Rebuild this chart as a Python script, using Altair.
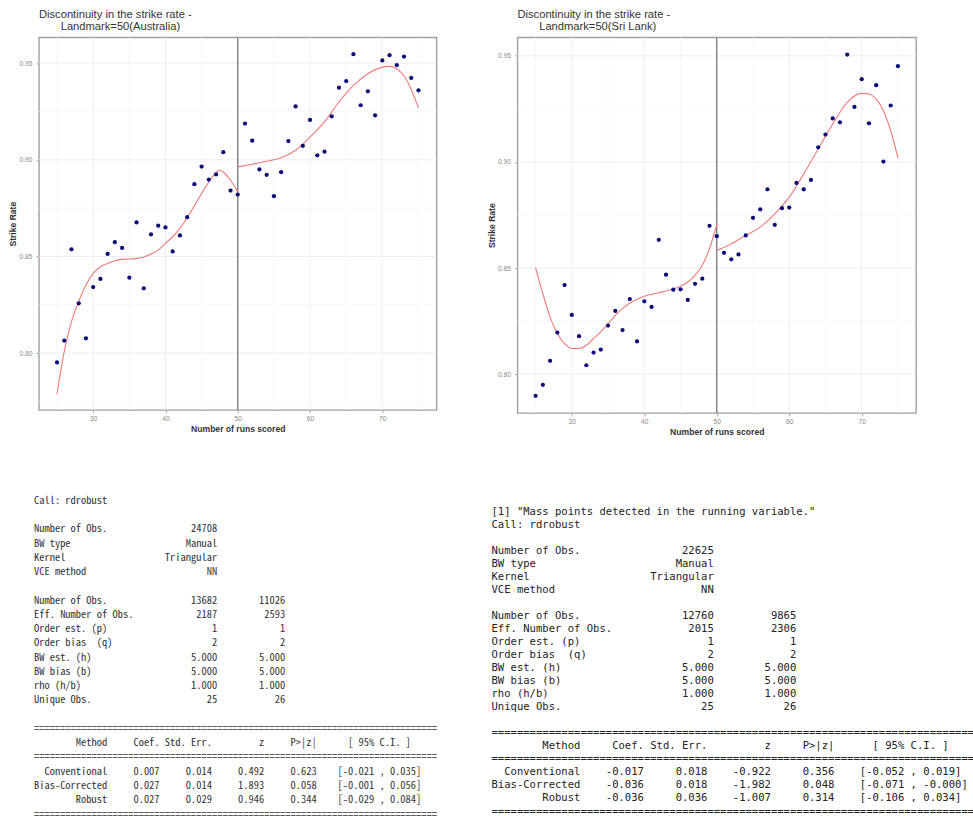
import altair as alt
import pandas as pd

NB = "\u00a0"
ZW = "\u200b"  # keeps leading non-breaking spaces from being trimmed

# ---------------- data: binned scatter (runs 25..75) ----------------
runs = list(range(25, 76))

aus_rate = [0.7952, 0.8065, 0.8537, 0.8258, 0.8077, 0.8342, 0.8384, 0.8514, 0.8574, 0.8544,
            0.8390, 0.8676, 0.8335, 0.8614, 0.8659, 0.8650, 0.8526, 0.8609, 0.8703, 0.8874,
            0.8965, 0.8898, 0.8924, 0.9039, 0.8841, 0.8820, 0.9187, 0.9099, 0.8950, 0.8922,
            0.8812, 0.8936, 0.9097, 0.9276, 0.9072, 0.9206, 0.9023, 0.9042, 0.9225, 0.9373,
            0.9407, 0.9546, 0.9282, 0.9354, 0.9230, 0.9514, 0.9541, 0.9490, 0.9534, 0.9423,
            0.9359]

sl_rate = [0.7898, 0.7950, 0.8063, 0.8196, 0.8420, 0.8279, 0.8179, 0.8042, 0.8102, 0.8116,
           0.8229, 0.8298, 0.8208, 0.8354, 0.8154, 0.8343, 0.8317, 0.8633, 0.8469, 0.8398,
           0.8400, 0.8350, 0.8426, 0.8450, 0.8699, 0.8650, 0.8572, 0.8541, 0.8564, 0.8654,
           0.8737, 0.8777, 0.8871, 0.8704, 0.8782, 0.8785, 0.8901, 0.8871, 0.8915, 0.9069,
           0.9129, 0.9205, 0.9187, 0.9506, 0.9259, 0.9390, 0.9182, 0.9362, 0.9002, 0.9266,
           0.9451]

# ---------------- data: fitted polynomial curves ----------------
aus_fit_lx = [25, 26, 27, 28, 29, 30, 31, 32, 33, 34, 35, 36, 37, 38, 39, 40, 41, 42, 43, 44,
              45, 46, 47, 47.5, 48, 49, 50]
aus_fit_ly = [0.7788, 0.8009, 0.8163, 0.8267, 0.8353, 0.8413, 0.8447, 0.8464, 0.8478, 0.8485,
              0.8487, 0.8490, 0.8497, 0.8513, 0.8533, 0.8568, 0.8602, 0.8645, 0.8700, 0.8762,
              0.8826, 0.8886, 0.8934, 0.8946, 0.8937, 0.8894, 0.8834]
aus_fit_rx = [50, 52, 54, 56, 58, 60, 62, 64, 66, 68, 70, 71, 72, 73, 74, 75]
aus_fit_ry = [0.8963, 0.8977, 0.8992, 0.9011, 0.9049, 0.9118, 0.9196, 0.9299, 0.9385, 0.9445,
              0.9479, 0.9483, 0.9471, 0.9433, 0.9364, 0.9269]

sl_fit_lx = [25, 26, 27, 28, 29, 30, 31, 32, 33, 34, 35, 36, 37, 38, 39, 40, 41, 42, 43, 44,
             45, 46, 47, 48, 49, 50]
sl_fit_ly = [0.8502, 0.8379, 0.8270, 0.8191, 0.8144, 0.8121, 0.8121, 0.8136, 0.8168, 0.8199,
             0.8238, 0.8277, 0.8309, 0.8335, 0.8353, 0.8367, 0.8376, 0.8384, 0.8392, 0.8401,
             0.8414, 0.8434, 0.8466, 0.8513, 0.8591, 0.8704]
sl_fit_rx = [50, 52, 54, 56, 58, 60, 62, 64, 66, 68, 70, 71, 72, 73, 74, 75]
sl_fit_ry = [0.8583, 0.8614, 0.8654, 0.8693, 0.8755, 0.8834, 0.8944, 0.9061, 0.9179, 0.9281,
             0.9323, 0.9320, 0.9296, 0.9241, 0.9147, 0.9019]

cutoff = [50]
x_major = [30, 40, 50, 60, 70]
x_minor = [25, 35, 45, 55, 65, 75]
y_major = [0.80, 0.85, 0.90, 0.95]
aus_y_minor = [0.775, 0.825, 0.875, 0.925]
sl_y_minor = [0.825, 0.875, 0.925]

# ---------------- data: rdrobust printouts ----------------
aus_top = [("Number of Obs.", "24708"), ("BW type", "Manual"), ("Kernel", "Triangular"), ("VCE method", "NN")]
aus_mid = [("Number of Obs.", "13682", "11026"), ("Eff. Number of Obs.", "2187", "2593"),
           ("Order est. (p)", "1", "1"), ("Order bias  (q)", "2", "2"),
           ("BW est. (h)", "5.000", "5.000"), ("BW bias (b)", "5.000", "5.000"),
           ("rho (h/b)", "1.000", "1.000"), ("Unique Obs.", "25", "26")]
aus_tab = [("Conventional", "0.007", "0.014", "0.492", "0.623", "-0.021", "0.035"),
           ("Bias-Corrected", "0.027", "0.014", "1.893", "0.058", "-0.001", "0.056"),
           ("Robust", "0.027", "0.029", "0.946", "0.344", "-0.029", "0.084")]

sl_top = [("Number of Obs.", "22625"), ("BW type", "Manual"), ("Kernel", "Triangular"), ("VCE method", "NN")]
sl_mid = [("Number of Obs.", "12760", "9865"), ("Eff. Number of Obs.", "2015", "2306"),
          ("Order est. (p)", "1", "1"), ("Order bias  (q)", "2", "2"),
          ("BW est. (h)", "5.000", "5.000"), ("BW bias (b)", "5.000", "5.000"),
          ("rho (h/b)", "1.000", "1.000"), ("Unique Obs.", "25", "26")]
sl_tab = [("Conventional", "-0.017", "0.018", "-0.922", "0.356", "-0.052", "0.019"),
          ("Bias-Corrected", "-0.036", "0.018", "-1.982", "0.048", "-0.071", "-0.000"),
          ("Robust", "-0.036", "0.036", "-1.007", "0.314", "-0.106", "0.034")]


def keep(s):
    return ZW + s.replace(" ", NB)


def printout(top, mid, tab, pre):
    sep = "=" * 77
    lines = list(pre) + ["Call: rdrobust", ""]
    lines += [f"{a:<22}{b:>13}" for a, b in top]
    lines += [""]
    lines += [f"{a:<22}{b:>13}{c:>13}" for a, b, c in mid]
    lines += ["", sep,
              f"{'Method':>14}{'Coef.':>10}{'Std. Err.':>10}{'z':>10}{'P>|z|':>10}      [ 95% C.I. ]",
              sep]
    lines += [f"{m:>14}{c:>10}{s:>10}{z:>10}{p:>10}    [{lo} , {hi}]" for m, c, s, z, p, lo, hi in tab]
    lines += [sep]
    rows = [(i, l) for i, l in enumerate(lines) if l]
    return pd.DataFrame({"line": [i for i, _ in rows],
                         "col": [0] * len(rows),
                         "txt": [keep(l) for _, l in rows]})


# ---------------- layout constants ----------------
FRAME_TOP = 36
WL, HL = 398, 373
WR, HR = 399, 376
COL_GAP = 81
ROW_GAP = 10
ROW1 = max(HL, HR)
Y2 = FRAME_TOP + ROW1 + ROW_GAP
H2 = 390
LEFT_X, RIGHT_X = 38, 38 + WL + COL_GAP

SANS = "Liberation Sans"
MONO = "DejaVu Sans Mono"
NARROW_MONO = "Noto Sans Mono CJK SC"


def rd_plot(rate, flx, fly, frx, fry, ydom, yminor, title, w, h):
    xs = alt.Scale(domain=[22.5, 77.5], nice=False, zero=False)
    ys = alt.Scale(domain=ydom, nice=False, zero=False)
    xaxis = alt.Axis(values=x_major, title="Number of runs scored", grid=False, domain=False,
                     labelColor="#8a8a8a", labelFontSize=6.7, labelFont=SANS, labelPadding=3,
                     tickColor="#aaaaaa", tickSize=3, titleFont=SANS, titleFontSize=8.6,
                     titleFontWeight="bold", titleColor="#333333", titlePadding=2)
    yaxis = alt.Axis(values=y_major, format=".2f", title="Strike Rate", grid=False, domain=False,
                     labelColor="#8a8a8a", labelFontSize=6.7, labelFont=SANS, labelPadding=4,
                     tickColor="#aaaaaa", tickSize=3, titleFont=SANS, titleFontSize=8.6,
                     titleFontWeight="bold", titleColor="#333333", titlePadding=1,
                     minExtent=20, maxExtent=20)

    pts = pd.DataFrame({"runs": runs, "rate": rate})
    fit = pd.DataFrame({"runs": flx + frx, "rate": fly + fry,
                        "side": ["below"] * len(flx) + ["above"] * len(frx)})

    gx_min = alt.Chart(pd.DataFrame({"v": x_minor})).mark_rule(color="#f4f4f4", strokeWidth=0.7).encode(
        x=alt.X("v:Q", scale=xs, axis=xaxis))
    gy_min = alt.Chart(pd.DataFrame({"v": yminor})).mark_rule(color="#f4f4f4", strokeWidth=0.7).encode(
        y=alt.Y("v:Q", scale=ys, axis=yaxis))
    gx_maj = alt.Chart(pd.DataFrame({"v": x_major})).mark_rule(color="#ececec", strokeWidth=0.9).encode(
        x=alt.X("v:Q", scale=xs, axis=xaxis))
    gy_maj = alt.Chart(pd.DataFrame({"v": y_major})).mark_rule(color="#ececec", strokeWidth=0.9).encode(
        y=alt.Y("v:Q", scale=ys, axis=yaxis))
    vline = alt.Chart(pd.DataFrame({"v": cutoff})).mark_rule(color="#6e6e6e", strokeWidth=1.2).encode(
        x=alt.X("v:Q", scale=xs, axis=xaxis))
    curve = alt.Chart(fit).mark_line(color="#f07a7a", strokeWidth=1.1, interpolate="monotone").encode(
        x=alt.X("runs:Q", scale=xs, axis=xaxis),
        y=alt.Y("rate:Q", scale=ys, axis=yaxis),
        detail="side:N")
    dots = alt.Chart(pts).mark_circle(color="#0a0a78", size=18, opacity=1).encode(
        x=alt.X("runs:Q", scale=xs, axis=xaxis),
        y=alt.Y("rate:Q", scale=ys, axis=yaxis))

    return alt.layer(gx_min, gy_min, gx_maj, gy_maj, vline, curve, dots).properties(
        width=w, height=h,
        title=alt.TitleParams(text=title, anchor="start", frame="group", font=SANS, fontSize=11.2,
                              fontWeight="normal", color="#333333", offset=5, lineHeight=12),
        view=alt.ViewBackground(stroke="#a0a0a0", strokeWidth=1.4))


def text_panel(df, w, panel_x, text_x, cw, first_y, step, font, size, color):
    d0 = (panel_x - text_x) / cw
    e0 = -(first_y - Y2) / step
    return alt.Chart(df).mark_text(align="left", baseline="middle", font=font, fontSize=size,
                                   color=color).encode(
        x=alt.X("col:Q", scale=alt.Scale(domain=[d0, d0 + w / cw], nice=False, zero=False), axis=None),
        y=alt.Y("line:Q", scale=alt.Scale(domain=[e0, e0 + H2 / step], nice=False, zero=False,
                                          reverse=True), axis=None),
        text="txt:N").properties(width=w, height=H2)


pA = rd_plot(aus_rate, aus_fit_lx, aus_fit_ly, aus_fit_rx, aus_fit_ry, [0.7706, 0.9633], aus_y_minor,
             ["Discontinuity in the strike rate -", ZW + NB * 7 + "Landmark=50(Australia)"], WL, HL)
pS = rd_plot(sl_rate, sl_fit_lx, sl_fit_ly, sl_fit_rx, sl_fit_ry, [0.7817, 0.9587], sl_y_minor,
             ["Discontinuity in the strike rate -", ZW + NB * 7 + "Landmark=50(Sri Lank)"], WR, HR)

tA = text_panel(printout(aus_top, aus_mid, aus_tab, []), WL, LEFT_X, 33, 5.27, 500, 14.27,
                NARROW_MONO, 10.5, "#333333")
tS = text_panel(printout(sl_top, sl_mid, sl_tab, ['[1] "Mass points detected in the running variable."']),
                WR, RIGHT_X, 491, 6.37, 511, 13.04, MONO, 10.58, "#222222")

chart = alt.concat(pA, pS, tA, tS, columns=2, spacing={"row": ROW_GAP, "column": COL_GAP},
                   bounds="flush").properties(
    padding={"left": 8, "top": 7, "right": -9, "bottom": -3},
    background="white").configure_view(strokeWidth=0)

chart.save("out.html", embed_options={"renderer": "svg", "actions": False})
